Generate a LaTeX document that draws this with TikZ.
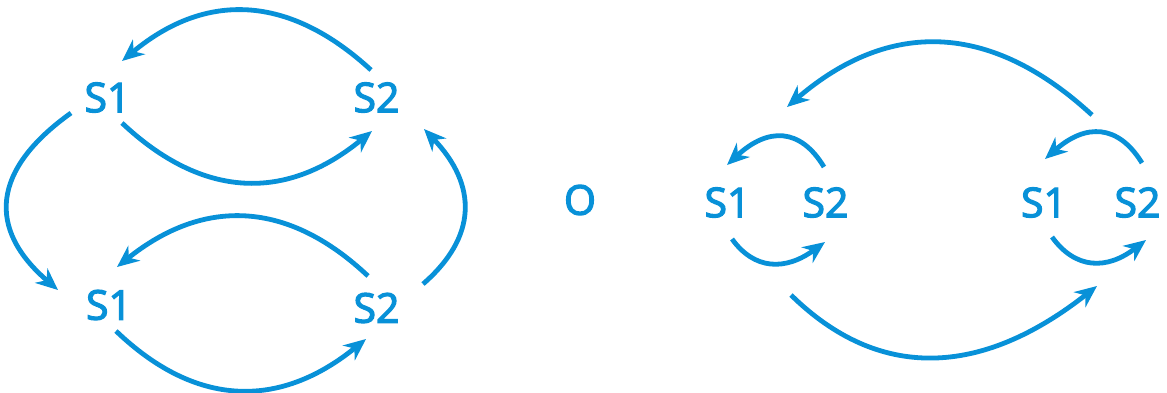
\documentclass[tikz,border=0pt]{standalone}
\usepackage{fontspec}
\setmainfont{Open Sans}[FakeBold=3]
\usetikzlibrary{arrows.meta}
\definecolor{sblue}{RGB}{8,145,216}
\tikzset{
  lbl/.style={text=sblue, inner sep=0pt, font=\fontsize{41}{41}\selectfont},
  arc/.style={draw=sblue, line width=4.8pt, -{Stealth[length=22pt,width=19pt,inset=7pt]}}
}
\begin{document}
\begin{tikzpicture}[x=1pt,y=-1pt]
\useasboundingbox (0,0) rectangle (1167,392);
% labels
\node[lbl] (s1a) at (107.5,97.5) {S1};
\node[lbl] (s2a) at (376.5,97.5) {S2};
\node[lbl] (s1b) at (109,305) {S1};
\node[lbl] (s2b) at (376.5,308) {S2};
\node[lbl] (o) at (580,200) {O};
\node[lbl] (s1c) at (727.5,202.5) {S1};
\node[lbl] (s2c) at (825.5,202.5) {S2};
\node[lbl] (s1d) at (1044,202.5) {S1};
\node[lbl] (s2d) at (1137.5,202.5) {S2};
% end points
\coordinate (a1s) at (371,70);   \coordinate (a1e) at (122,61);
\coordinate (a2s) at (122,123);  \coordinate (a2e) at (372,131);
\coordinate (a3s) at (71,113);   \coordinate (a3e) at (58,290);
\coordinate (a4s) at (423,284);  \coordinate (a4e) at (424,129);
\coordinate (a5s) at (368,276);  \coordinate (a5e) at (117,267);
\coordinate (a6s) at (116,331);  \coordinate (a6e) at (366,339);
\coordinate (a7s) at (1092,115); \coordinate (a7e) at (787,107);
\coordinate (a8s) at (824,167);  \coordinate (a8e) at (727,165);
\coordinate (a9s) at (732,239);  \coordinate (a9e) at (825,242);
\coordinate (a10s) at (1142,163); \coordinate (a10e) at (1045,159);
\coordinate (a11s) at (1052,237); \coordinate (a11e) at (1146,240);
\coordinate (a12s) at (791,295);  \coordinate (a12e) at (1097,286);
% connectors
\draw[arc] (a1s) .. controls (288.7,-5.7) and (205.7,-8.7) .. (a1e);
\draw[arc] (a2s) .. controls (202.7,199) and (286,201.7) .. (a2e);
\draw[arc] (a3s) .. controls (-8.7,170) and (-13,229) .. (a3e);
\draw[arc] (a4s) .. controls (477.3,236.9) and (477.7,185.3) .. (a4e);
\draw[arc] (a5s) .. controls (287.7,200.3) and (204,197.3) .. (a5e);
\draw[arc] (a6s) .. controls (195.3,407) and (278.7,409.7) .. (a6e);
\draw[arc] (a7s) .. controls (991,21.7) and (889.3,19) .. (a7e);
\draw[arc] (a8s) .. controls (800.3,127.7) and (768,127) .. (a8e);
\draw[arc] (a9s) .. controls (754.3,270) and (785.3,271) .. (a9e);
\draw[arc] (a10s) .. controls (1118.3,124.3) and (1086,123) .. (a10e);
\draw[arc] (a11s) .. controls (1075.3,269.3) and (1106.7,270.3) .. (a11e);
\draw[arc] (a12s) .. controls (878.3,380.7) and (980.3,377.7) .. (a12e);
\end{tikzpicture}
\end{document}
